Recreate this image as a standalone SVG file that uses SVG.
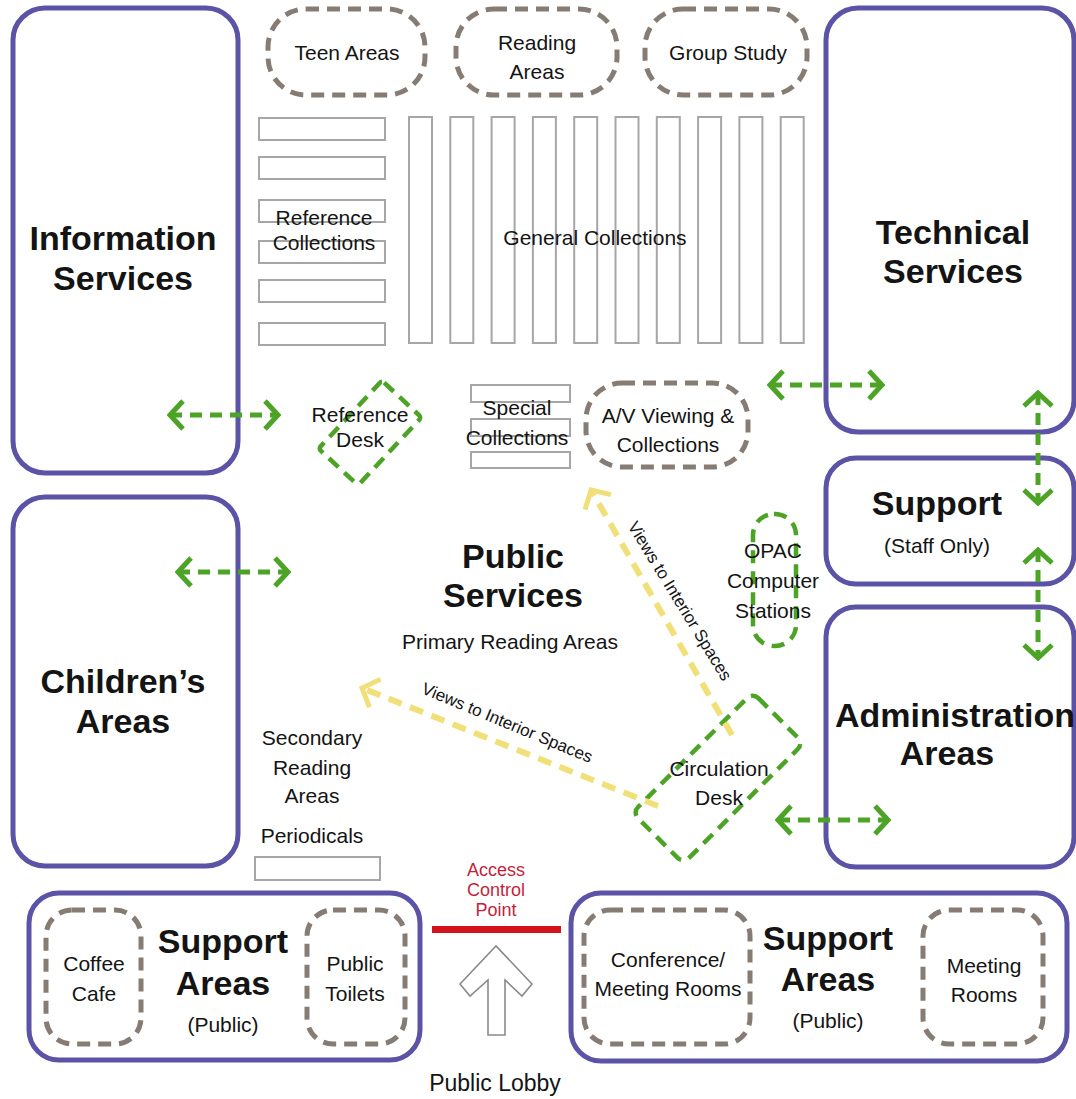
<svg xmlns="http://www.w3.org/2000/svg" width="1076" height="1099" viewBox="0 0 1076 1099">
<style>
text{font-family:"Liberation Sans",Arial,Helvetica,sans-serif;fill:#141414;text-anchor:middle}
.big{font-size:34px;font-weight:bold}
.t{font-size:21px}
.red{fill:#c51f3c;font-size:18px}
.vt{font-size:17px}
.area{fill:#fff;stroke:#5a53a6;stroke-width:5}
.sub{fill:none;stroke:#877c73;stroke-width:5;stroke-dasharray:13 8}
.shelf{fill:#fff;stroke:#a6a6a6;stroke-width:2}
.desk{fill:none;stroke:#4da326;stroke-width:4.5;stroke-dasharray:13 8}
.link{fill:none;stroke:#4da326;stroke-width:5;stroke-dasharray:12 8}
.view{fill:none;stroke:#f1e07a;stroke-width:6;stroke-dasharray:14 9}
</style>
<defs>
<marker id="gh" viewBox="0 0 20 32" refX="17" refY="16" markerWidth="20" markerHeight="32" markerUnits="userSpaceOnUse" orient="auto-start-reverse">
<path d="M4,2 L17,16 L4,30" fill="none" stroke="#4da326" stroke-width="5" stroke-dasharray="none"/>
</marker>
<marker id="yh" viewBox="0 0 20 34" refX="17" refY="17" markerWidth="20" markerHeight="34" markerUnits="userSpaceOnUse" orient="auto">
<path d="M3,2 L17,17 L3,32" fill="none" stroke="#f1e07a" stroke-width="5" stroke-dasharray="none"/>
</marker>
</defs>
<rect width="1076" height="1099" fill="#fff"/>

<g id="information-services">
<rect class="area" x="13" y="8" width="225" height="465" rx="32"/>
<text class="big" x="123" y="250">Information</text>
<text class="big" x="123" y="290">Services</text>
</g>
<g id="childrens-areas">
<rect class="area" x="13" y="497" width="225" height="369" rx="32"/>
<text class="big" x="123" y="693">Children’s</text>
<text class="big" x="123" y="733">Areas</text>
</g>
<g id="technical-services">
<rect class="area" x="826" y="8" width="248" height="424" rx="32"/>
<text class="big" x="953" y="244">Technical</text>
<text class="big" x="953" y="283">Services</text>
</g>
<g id="support-staff">
<rect class="area" x="826" y="458" width="248" height="126" rx="30"/>
<text class="big" x="937" y="515">Support</text>
<text class="t" x="937" y="553">(Staff Only)</text>
</g>
<g id="administration-areas">
<rect class="area" x="826" y="607" width="248" height="260" rx="30"/>
<text class="big" x="955" y="727">Administration</text>
<text class="big" x="947" y="765">Areas</text>
</g>

<g id="teen-areas">
<rect class="sub" x="268" y="9" width="157" height="86" rx="38"/>
<text class="t" x="347" y="60">Teen Areas</text>
</g>
<g id="reading-areas">
<rect class="sub" x="456" y="9" width="161" height="86" rx="38"/>
<text class="t" x="537" y="50">Reading</text>
<text class="t" x="537" y="79">Areas</text>
</g>
<g id="group-study">
<rect class="sub" x="645" y="9" width="162" height="86" rx="38"/>
<text class="t" x="728" y="60">Group Study</text>
</g>

<g id="reference-collections">
<rect class="shelf" x="259" y="118" width="126" height="22"/>
<rect class="shelf" x="259" y="157" width="126" height="22"/>
<rect class="shelf" x="259" y="200" width="126" height="22"/>
<rect class="shelf" x="259" y="241" width="126" height="22"/>
<rect class="shelf" x="259" y="280" width="126" height="22"/>
<rect class="shelf" x="259" y="323" width="126" height="22"/>
<text class="t" x="324" y="225">Reference</text>
<text class="t" x="324" y="250">Collections</text>
</g>

<g id="general-collections">
<rect class="shelf" x="409" y="117" width="23" height="226"/>
<rect class="shelf" x="450.3" y="117" width="23" height="226"/>
<rect class="shelf" x="491.6" y="117" width="23" height="226"/>
<rect class="shelf" x="532.9" y="117" width="23" height="226"/>
<rect class="shelf" x="574.2" y="117" width="23" height="226"/>
<rect class="shelf" x="615.5" y="117" width="23" height="226"/>
<rect class="shelf" x="656.8" y="117" width="23" height="226"/>
<rect class="shelf" x="698.1" y="117" width="23" height="226"/>
<rect class="shelf" x="739.4" y="117" width="23" height="226"/>
<rect class="shelf" x="780.7" y="117" width="23" height="226"/>
<text class="t" x="595" y="245">General Collections</text>
</g>

<g id="reference-desk">
<rect class="desk" x="-27" y="-46.5" width="54" height="93" rx="3" transform="translate(370,433) rotate(43)"/>
<text class="t" x="360" y="422">Reference</text>
<text class="t" x="360" y="447">Desk</text>
</g>

<g id="special-collections">
<rect class="shelf" x="471" y="385" width="99" height="17"/>
<rect class="shelf" x="471" y="419" width="99" height="17"/>
<rect class="shelf" x="471" y="452" width="99" height="16"/>
<text class="t" x="517" y="415">Special</text>
<text class="t" x="517" y="445">Collections</text>
</g>

<g id="av-viewing">
<rect class="sub" x="586" y="383" width="162" height="84" rx="36"/>
<text class="t" x="668" y="423">A/V Viewing &amp;</text>
<text class="t" x="668" y="452">Collections</text>
</g>

<g id="opac-stations">
<rect class="desk" x="753" y="514" width="43" height="132" rx="21"/>
<text class="t" x="773" y="558">OPAC</text>
<text class="t" x="773" y="588">Computer</text>
<text class="t" x="773" y="618">Stations</text>
</g>

<g id="public-services">
<text class="big" x="513" y="568">Public</text>
<text class="big" x="513" y="607">Services</text>
<text class="t" x="510" y="649">Primary Reading Areas</text>
</g>

<g id="secondary-reading">
<text class="t" x="312" y="745">Secondary</text>
<text class="t" x="312" y="775">Reading</text>
<text class="t" x="312" y="803">Areas</text>
<text class="t" x="312" y="843">Periodicals</text>
<rect class="shelf" x="255" y="857" width="125" height="23"/>
</g>

<g id="circulation-desk">
<rect class="desk" x="-36" y="-85" width="72" height="170" rx="8" transform="translate(718,778) rotate(45)"/>
<text class="t" x="719" y="776">Circulation</text>
<text class="t" x="719" y="805">Desk</text>
</g>

<g id="support-areas-left">
<rect class="area" x="29" y="893" width="391" height="167" rx="30"/>
<rect class="sub" x="46" y="910" width="95" height="134" rx="26"/>
<rect class="sub" x="307" y="910" width="98" height="134" rx="26"/>
<text class="t" x="94" y="971">Coffee</text>
<text class="t" x="94" y="1001">Cafe</text>
<text class="t" x="355" y="971">Public</text>
<text class="t" x="355" y="1001">Toilets</text>
<text class="big" x="223" y="953">Support</text>
<text class="big" x="223" y="995">Areas</text>
<text class="t" x="223" y="1032">(Public)</text>
</g>

<g id="support-areas-right">
<rect class="area" x="571" y="893" width="496" height="168" rx="30"/>
<rect class="sub" x="584" y="910" width="166" height="134" rx="26"/>
<rect class="sub" x="923" y="910" width="120" height="134" rx="26"/>
<text class="t" x="668" y="967">Conference/</text>
<text class="t" x="668" y="996">Meeting Rooms</text>
<text class="t" x="984" y="973">Meeting</text>
<text class="t" x="984" y="1002">Rooms</text>
<text class="big" x="828" y="950">Support</text>
<text class="big" x="828" y="991">Areas</text>
<text class="t" x="828" y="1028">(Public)</text>
</g>

<g id="access-control-point">
<text class="red" x="496" y="876">Access</text>
<text class="red" x="496" y="896">Control</text>
<text class="red" x="496" y="916">Point</text>
<rect x="432" y="926" width="129" height="7" fill="#d4121c"/>
</g>

<g id="public-lobby">
<polygon points="488,1035 488,980 470,996 460,984 496,946 532,984 522,996 505,980 505,1035" fill="#fff" stroke="#8a8a8a" stroke-width="1.6"/>
<text x="495" y="1091" style="font-size:23px">Public Lobby</text>
</g>

<g id="connectors">
<line class="link" x1="170" y1="415" x2="278" y2="415" marker-start="url(#gh)" marker-end="url(#gh)"/>
<line class="link" x1="178" y1="572" x2="288" y2="572" marker-start="url(#gh)" marker-end="url(#gh)"/>
<line class="link" x1="770" y1="385" x2="882" y2="385" marker-start="url(#gh)" marker-end="url(#gh)"/>
<line class="link" x1="778" y1="820" x2="888" y2="820" marker-start="url(#gh)" marker-end="url(#gh)"/>
<line class="link" x1="1038" y1="393" x2="1038" y2="503" marker-start="url(#gh)" marker-end="url(#gh)"/>
<line class="link" x1="1038" y1="550" x2="1038" y2="658" marker-start="url(#gh)" marker-end="url(#gh)"/>
<line class="view" x1="658" y1="806" x2="362" y2="688" marker-end="url(#yh)"/>
<line class="view" x1="732" y1="735" x2="591" y2="490" marker-end="url(#yh)"/>
<text class="vt" x="505" y="728" transform="rotate(22.5 505 728)">Views to Interior Spaces</text>
<text class="vt" x="675" y="604" transform="rotate(58.5 675 604)">Views to Interior Spaces</text>
</g>
</svg>
